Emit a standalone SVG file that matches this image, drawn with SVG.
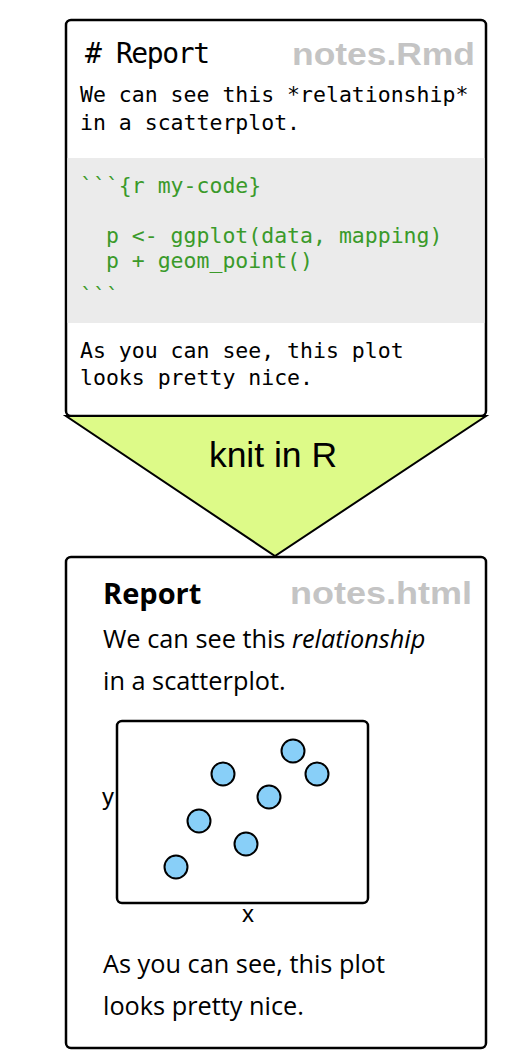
<svg xmlns="http://www.w3.org/2000/svg" width="526" height="1064" viewBox="0 0 526 1064">
<style>
.box{fill:#fff;stroke:#000;stroke-width:2.5}
.mono{font-family:"DejaVu Sans Mono","Liberation Mono",monospace;font-size:21.5px;fill:#000}
.code{fill:#3a9a2a}
.fname{font-family:"Liberation Sans",Arial,sans-serif;font-weight:bold;font-size:31px;fill:#c4c4c4}
.body{font-family:"Open Sans","Noto Sans",sans-serif;font-size:25.3px;fill:#000}
.pt{fill:#88cff8;stroke:#000;stroke-width:2}
.lab{font-family:"Liberation Sans",Arial,sans-serif;font-size:24px;fill:#000}
</style>
<g id="rmd">
<rect class="box" x="66" y="20" width="420" height="396" rx="5"/>
<rect x="67.5" y="158" width="417" height="165" fill="#ebebeb"/>
<text class="mono" x="85" y="63" style="font-size:28px" textLength="125">#&#160;Report</text>
<text class="fname" x="292" y="65" textLength="183" lengthAdjust="spacingAndGlyphs">notes.Rmd</text>
<text class="mono" x="80" y="102">We can see this *relationship*</text>
<text class="mono" x="80" y="130">in a scatterplot.</text>
<text class="mono code" x="80" y="193">```{r my-code}</text>
<text class="mono code" x="80" y="243" xml:space="preserve">  p &lt;- ggplot(data, mapping)</text>
<text class="mono code" x="80" y="268" xml:space="preserve">  p + geom_point()</text>
<text class="mono code" x="80" y="303">```</text>
<text class="mono" x="80" y="358">As you can see, this plot</text>
<text class="mono" x="80" y="385">looks pretty nice.</text>
</g>
<g id="connectors">
<g id="knit">
<polygon points="66,416 486,416 275,556" fill="#ddfa88" stroke="#000" stroke-width="2"/>
<text x="273" y="467" text-anchor="middle" font-family="Liberation Sans,Arial,sans-serif" font-size="35.5" fill="#000">knit in R</text>
</g>
</g>
<g id="html">
<rect class="box" x="66" y="557" width="420" height="491" rx="5"/>
<text class="body" x="103" y="604" style="font-weight:bold;font-size:29px">Report</text>
<text class="fname" x="290" y="604" textLength="182" lengthAdjust="spacingAndGlyphs">notes.html</text>
<text class="body" x="103" y="648">We can see this <tspan font-style="italic">relationship</tspan></text>
<text class="body" x="103" y="690">in a scatterplot.</text>
<g id="plot">
<rect x="117" y="721" width="251" height="182" rx="5" fill="#fff" stroke="#000" stroke-width="2.5"/>
<circle class="pt" cx="293" cy="751" r="11.5"/>
<circle class="pt" cx="317" cy="774" r="11.5"/>
<circle class="pt" cx="223" cy="774" r="11.5"/>
<circle class="pt" cx="269" cy="797" r="11.5"/>
<circle class="pt" cx="199" cy="821" r="11.5"/>
<circle class="pt" cx="246" cy="844" r="11.5"/>
<circle class="pt" cx="176" cy="867" r="11.5"/>
<text class="lab" x="108" y="805" text-anchor="middle">y</text>
<text class="lab" x="248" y="922" text-anchor="middle">x</text>
</g>
<text class="body" x="103" y="973">As you can see, this plot</text>
<text class="body" x="103" y="1015">looks pretty nice.</text>
</g>
</svg>
